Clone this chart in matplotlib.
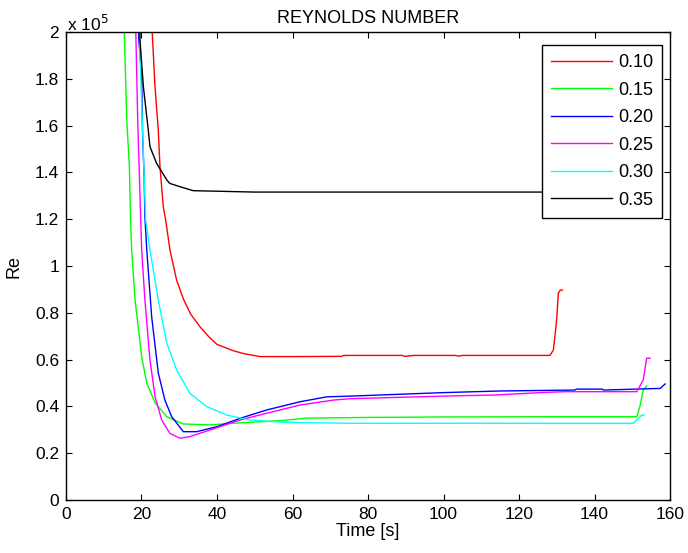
import matplotlib
matplotlib.use("Agg")
import matplotlib.pyplot as plt
from matplotlib.ticker import FuncFormatter, MultipleLocator

plt.rcParams['font.family'] = ['Liberation Sans', 'DejaVu Sans']

labels = ['0.10', '0.15', '0.20', '0.25', '0.30', '0.35']
colors = ['#ff0000', '#00ff00', '#0000ff', '#ff00ff', '#00ffff', '#000000']

# Time [s] and Re values for each case
t_010 = [22.3, 22.86, 23.58, 24.45, 24.9, 25.77, 26.4, 27.55, 29.3, 31.07, 33.0, 35.5, 38.0, 40.0, 44.3,
         47.0, 51.4, 60, 73, 73.5, 89, 89.8, 91, 92, 103, 104, 105, 120, 128.2, 129.1, 129.5, 130.0,
         130.4, 130.9, 131.5]
r_010 = [220000, 199400, 176600, 158100, 142400, 125300, 119700, 106800, 94000, 86000, 79500, 74000,
         69500, 66500, 63800, 62600, 61300, 61300, 61400, 61800, 61800, 61400, 61600, 61800, 61800,
         61500, 61800, 61800, 61800, 64100, 69800, 77600, 88300, 89700, 89700]

t_015 = [15.2, 15.45, 16.1, 16.8, 17.1, 17.4, 18.3, 20.05, 21.4, 23.6, 26.7, 31.0, 38.1, 46.1, 56.7,
         63.8, 80, 100, 130, 151.2, 152.0, 152.9, 153.8]
r_015 = [230000, 199400, 162400, 142400, 119700, 106800, 85500, 61100, 50000, 41500, 35600, 32500,
         32100, 33000, 33900, 35000, 35300, 35500, 35600, 35600, 39900, 47000, 48700]

t_020 = [19.0, 19.3, 20.05, 20.3, 20.7, 20.9, 21.4, 22.7, 24.45, 26.2, 28.0, 31.1, 34.6, 39.9, 46.1,
         53.2, 62.0, 69.1, 75.2, 90, 100, 115, 134.8, 135.2, 142.0, 142.4, 157.4, 158.7]
r_020 = [230000, 196600, 180900, 155300, 138200, 121100, 106800, 78300, 54300, 42700, 35600, 29200,
         29200, 31300, 34900, 38500, 42000, 44100, 44400, 45300, 45900, 46600, 47000, 47400, 47400,
         47000, 47700, 49600]

t_025 = [18.3, 18.5, 19.0, 19.4, 19.8, 20.05, 20.9, 22.25, 23.6, 25.35, 27.5, 30.2, 32.8, 38.1, 46.1,
         53.2, 62.0, 70.8, 75.2, 100, 114, 125.6, 132.2, 151.2, 152.9, 153.8, 154.7]
r_025 = [230000, 199400, 162400, 141000, 119700, 106800, 85500, 59800, 44100, 34200, 28500, 26400,
         27100, 29900, 34200, 37100, 40600, 42700, 43300, 44400, 44900, 45900, 46300, 46300, 51300,
         60600, 60600]

t_030 = [19.3, 19.6, 20.5, 21.1, 22.25, 24.45, 26.7, 29.3, 32.8, 37.3, 42.6, 48.7, 57.6, 75.2, 100,
         130, 150.3, 151.6, 152.5, 153.1]
r_030 = [230000, 190900, 148200, 119700, 106800, 85500, 67000, 55600, 45600, 39900, 36300, 34200,
         33200, 32800, 32800, 32800, 32800, 34900, 36300, 36300]

t_035 = [19.4, 19.6, 20.5, 21.8, 22.25, 24.0, 26.7, 27.5, 30.2, 33.7, 50, 80, 110, 135]
r_035 = [230000, 196600, 176600, 158100, 151000, 143900, 136800, 135300, 133900, 132200,
         131600, 131600, 131600, 131600]

series = [(t_010, r_010), (t_015, r_015), (t_020, r_020),
          (t_025, r_025), (t_030, r_030), (t_035, r_035)]

fig = plt.figure(figsize=(6.88, 5.53), dpi=100)
ax = fig.add_axes([0.0959, 0.0958, 0.878, 0.8463])

for (t, r), c, lab in zip(series, colors, labels):
    ax.plot(t, r, color=c, lw=1.0, label=lab)

ax.set_xlim(0, 160)
ax.set_ylim(0, 200000)
ax.xaxis.set_major_locator(MultipleLocator(20))
ax.yaxis.set_major_locator(MultipleLocator(20000))
ax.yaxis.set_major_formatter(FuncFormatter(lambda v, p: '%g' % round(v / 1e5, 2)))
ax.tick_params(direction='in', top=True, right=True, length=4, width=0.8,
               labelsize=12.5, pad=5)
for s in ax.spines.values():
    s.set_linewidth(1.0)

ax.set_xlabel('Time [s]', fontsize=13, labelpad=1)
ax.set_ylabel('Re', fontsize=13, labelpad=9)
ax.set_title('REYNOLDS NUMBER', fontsize=13, pad=6.5)
ax.text(0.002, 1.003, r'x 10$^{5}$', transform=ax.transAxes, fontsize=12.5,
        ha='left', va='baseline')

leg = ax.legend(loc='upper right', bbox_to_anchor=(0.987, 0.972), fontsize=13,
                frameon=True, fancybox=False, edgecolor='black', framealpha=1,
                handlelength=3.4, handletextpad=0.33, labelspacing=0.58,
                borderpad=0.5, borderaxespad=0)
leg.get_frame().set_linewidth(1.0)

fig.savefig('out.png', dpi=100)
